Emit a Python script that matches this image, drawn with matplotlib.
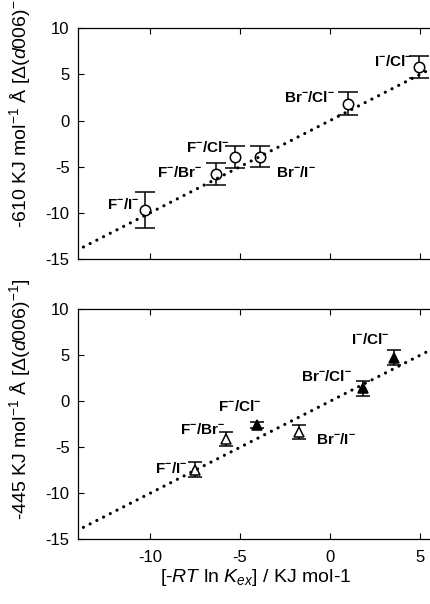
import matplotlib
matplotlib.use("Agg")
import matplotlib.pyplot as plt
import numpy as np

plt.rcParams['font.family'] = ['Liberation Sans', 'DejaVu Sans']
plt.rcParams['mathtext.fontset'] = 'custom'
plt.rcParams['mathtext.rm'] = 'Liberation Sans'
plt.rcParams['mathtext.it'] = 'Liberation Sans:italic'
plt.rcParams['mathtext.bf'] = 'Liberation Sans:bold'
plt.rcParams['axes.unicode_minus'] = False

# ---- data ----
pairs = ["F/I", "F/Br", "F/Cl", "Br/I", "Br/Cl", "I/Cl"]

top_x = [-10.3, -6.35, -5.3, -3.9, 1.0, 4.95]
top_y = [-9.7, -5.75, -3.95, -3.9, 1.85, 5.8]
top_err = [1.95, 1.2, 1.2, 1.15, 1.2, 1.15]

bot_x = [-7.5, -5.75, -4.05, -1.72, 1.85, 3.55]
bot_y = [-7.45, -4.1, -2.6, -3.35, 1.4, 4.75]
bot_err = [0.8, 0.8, 0.3, 0.75, 0.8, 0.78]
bot_filled = [False, False, True, False, True, True]

# label anchor positions (x, y, ha)
top_lab = [(-10.6, -9.1, 'right'), (-7.1, -5.65, 'right'), (-5.6, -2.95, 'right'),
           (-3.0, -5.65, 'left'), (0.3, 2.45, 'right'), (4.55, 6.4, 'right')]
bot_lab = [(-7.9, -7.3, 'right'), (-5.8, -3.1, 'right'), (-3.8, -0.6, 'right'),
           (-0.8, -4.2, 'left'), (1.2, 2.7, 'right'), (3.3, 6.7, 'right')]

fit_x = [-13.7, 6.5]
fit_y = [-13.7, 6.5]

xlim = (-14, 6)
ylim = (-15, 10)
ticks_x = [-10, -5, 0, 5]
ticks_y = [-15, -10, -5, 0, 5, 10]

W, H = 431, 604
fig = plt.figure(figsize=(W / 100, H / 100), dpi=100)

def make_ax(top_px, bot_px):
    left_px, right_px = 78, 438
    return fig.add_axes([left_px / W, 1 - bot_px / H, (right_px - left_px) / W, (bot_px - top_px) / H])

ax1 = make_ax(28.3, 259.0)
ax2 = make_ax(309.3, 539.3)

def lab(p):
    a, b = p.split("/")
    return a + r"$^{\mathbf{-}}$/" + b + r"$^{\mathbf{-}}$"

for ax in (ax1, ax2):
    ax.set_xlim(*xlim)
    ax.set_ylim(*ylim)
    ax.set_xticks(ticks_x)
    ax.set_yticks(ticks_y)
    ax.tick_params(direction='in', top=True, right=True, length=4, width=0.8,
                   labelsize=12)
    ax.tick_params(axis='y', pad=6)
    ax.tick_params(axis='x', pad=8)
    for s in ax.spines.values():
        s.set_linewidth(0.9)
    ax.plot(fit_x, fit_y, color='black', lw=2.3, linestyle=(0, (0.01, 2.35)),
            dash_capstyle='round', zorder=5)

# top panel
ax1.errorbar(top_x, top_y, yerr=top_err, fmt='o', ms=7.5, mfc='white', mec='black',
             mew=1.1, ecolor='black', elinewidth=1.1, capsize=7, capthick=1.1, zorder=3)
for p, (lx, ly, ha) in zip(pairs, top_lab):
    ax1.text(lx, ly, lab(p), ha=ha, va='center', fontsize=11, fontweight='bold')
ax1.tick_params(labelbottom=False)

# bottom panel
for x, y, e, f in zip(bot_x, bot_y, bot_err, bot_filled):
    ax2.errorbar([x], [y], yerr=[e], fmt='^', ms=7, mfc='black' if f else 'white',
                 mec='black', mew=1.1, ecolor='black', elinewidth=1.1, capsize=5,
                 capthick=1.1, zorder=3)
for p, (lx, ly, ha) in zip(pairs, bot_lab):
    ax2.text(lx, ly, lab(p), ha=ha, va='center', fontsize=11, fontweight='bold')

ax1.set_ylabel(r"-610 KJ mol$^{-1}$ Å [Δ($d006$)$^{-1}$]", fontsize=14, ha='left')
ax1.yaxis.set_label_coords(-0.125, (259 - 228) / 230.7)
ax2.set_ylabel(r"-445 KJ mol$^{-1}$ Å [Δ($d006$)$^{-1}$]", fontsize=14, ha='left')
ax2.yaxis.set_label_coords(-0.125, (539.3 - 520) / 230)

ax2.set_xlabel(r"[-$RT$ ln $K_{ex}$] / KJ mol-1", fontsize=14)
ax2.xaxis.set_label_coords((256 - 78) / 360, -0.12)

fig.savefig("out.png", dpi=100)
